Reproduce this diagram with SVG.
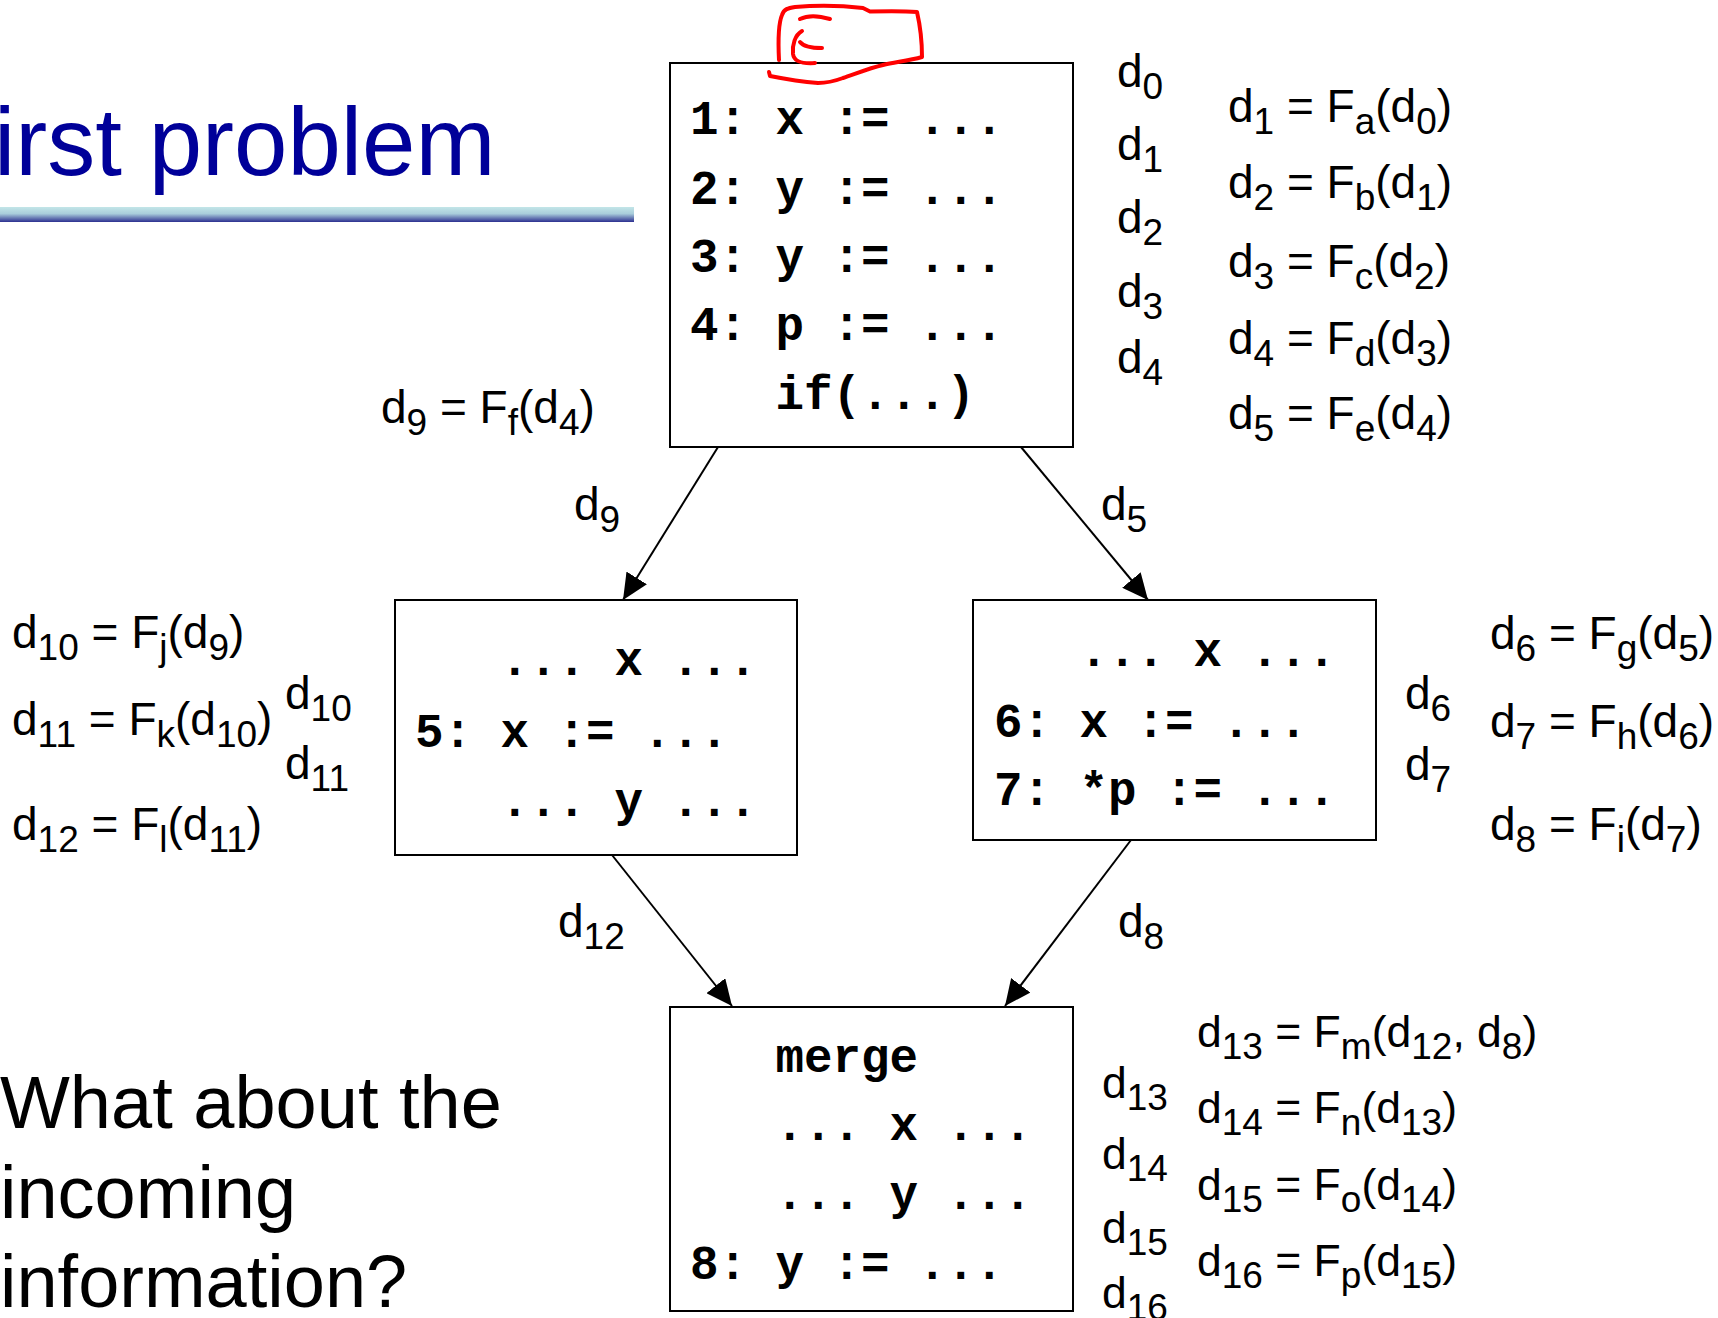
<svg xmlns="http://www.w3.org/2000/svg" width="1718" height="1318" viewBox="0 0 1718 1318">
<defs>
<style>
.box{fill:#fff;stroke:#000;stroke-width:2}
.code{font-family:"Liberation Mono","Courier New",monospace;font-weight:bold;font-size:47.5px;fill:#000}
.m{font-family:"Liberation Sans",Arial,sans-serif;font-size:46px;fill:#000}
.mb{font-family:"Liberation Sans",Arial,sans-serif;font-size:44.5px;fill:#000}
.s{font-size:37px}
.edge{stroke:#000;stroke-width:2;fill:none;marker-end:url(#arr)}
.red{fill:none;stroke:#f00;stroke-width:4;stroke-linecap:round;stroke-linejoin:round}
</style>
<marker id="arr" markerUnits="userSpaceOnUse" markerWidth="26" markerHeight="24" refX="26" refY="12" orient="auto" viewBox="0 0 26 24">
<path d="M0,0 L26,12 L0,24 Z" fill="#000"/>
</marker>
<linearGradient id="bar" x1="0" y1="0" x2="0" y2="1">
<stop offset="0" stop-color="#c3e6e8"/>
<stop offset="0.45" stop-color="#a9cddb"/>
<stop offset="1" stop-color="#2c2f90"/>
</linearGradient>
</defs>
<rect width="1718" height="1318" fill="#fff"/>

<g id="title">
<text x="-6" y="175" style="font-family:'Liberation Sans',Arial,sans-serif;font-size:96px;fill:#000099">irst problem</text>
<rect x="0" y="207" width="634" height="15" fill="url(#bar)"/>
</g>

<g id="question" style="font-family:'Liberation Sans',Arial,sans-serif;font-size:74px;fill:#000">
<text x="0" y="1128">What about the</text>
<text x="0" y="1218">incoming</text>
<text x="0" y="1307">information?</text>
</g>

<g id="connectors">
<line class="edge" x1="718" y1="447" x2="623" y2="600"/>
<line class="edge" x1="1021" y1="447" x2="1148" y2="600"/>
<line class="edge" x1="612" y1="855" x2="732" y2="1006"/>
<line class="edge" x1="1131" y1="840" x2="1005" y2="1006"/>
</g>

<g id="node1">
<rect class="box" x="670" y="63" width="403" height="384"/>
<text class="code" x="690" y="134">1: x := ...</text>
<text class="code" x="690" y="204">2: y := ...</text>
<text class="code" x="690" y="272">3: y := ...</text>
<text class="code" x="690" y="340">4: p := ...</text>
<text class="code" x="775.5" y="409">if(...)</text>
</g>

<g id="node2">
<rect class="box" x="395" y="600" width="402" height="255"/>
<text class="code" x="500.5" y="675">... x ...</text>
<text class="code" x="415" y="747">5: x := ...</text>
<text class="code" x="500.5" y="816">... y ...</text>
</g>

<g id="node3">
<rect class="box" x="973" y="600" width="403" height="240"/>
<text class="code" x="1079.5" y="666">... x ...</text>
<text class="code" x="994" y="737">6: x := ...</text>
<text class="code" x="994" y="805">7: *p := ...</text>
</g>

<g id="node4">
<rect class="box" x="670" y="1007" width="403" height="304"/>
<text class="code" x="775.5" y="1072">merge</text>
<text class="code" x="775.5" y="1140">... x ...</text>
<text class="code" x="775.5" y="1209">... y ...</text>
<text class="code" x="690" y="1279">8: y := ...</text>
</g>

<g id="edge-labels">
<text class="m" x="574" y="520">d<tspan class="s" dy="12">9</tspan></text>
<text class="m" x="1101" y="520">d<tspan class="s" dy="12">5</tspan></text>
<text class="m" x="558" y="937">d<tspan class="s" dy="12">12</tspan></text>
<text class="m" x="1118" y="937">d<tspan class="s" dy="12">8</tspan></text>
</g>

<g id="labels-top">
<text class="m" x="1117" y="87">d<tspan class="s" dy="12">0</tspan></text>
<text class="m" x="1117" y="160">d<tspan class="s" dy="12">1</tspan></text>
<text class="m" x="1117" y="233">d<tspan class="s" dy="12">2</tspan></text>
<text class="m" x="1117" y="307">d<tspan class="s" dy="12">3</tspan></text>
<text class="m" x="1117" y="373">d<tspan class="s" dy="12">4</tspan></text>
<text class="m" x="1228" y="122">d<tspan class="s" dy="12">1</tspan><tspan dy="-12"> = F</tspan><tspan class="s" dy="12">a</tspan><tspan dy="-12">(d</tspan><tspan class="s" dy="12">0</tspan><tspan dy="-12">)</tspan></text>
<text class="m" x="1228" y="198">d<tspan class="s" dy="12">2</tspan><tspan dy="-12"> = F</tspan><tspan class="s" dy="12">b</tspan><tspan dy="-12">(d</tspan><tspan class="s" dy="12">1</tspan><tspan dy="-12">)</tspan></text>
<text class="m" x="1228" y="277">d<tspan class="s" dy="12">3</tspan><tspan dy="-12"> = F</tspan><tspan class="s" dy="12">c</tspan><tspan dy="-12">(d</tspan><tspan class="s" dy="12">2</tspan><tspan dy="-12">)</tspan></text>
<text class="m" x="1228" y="354">d<tspan class="s" dy="12">4</tspan><tspan dy="-12"> = F</tspan><tspan class="s" dy="12">d</tspan><tspan dy="-12">(d</tspan><tspan class="s" dy="12">3</tspan><tspan dy="-12">)</tspan></text>
<text class="m" x="1228" y="429">d<tspan class="s" dy="12">5</tspan><tspan dy="-12"> = F</tspan><tspan class="s" dy="12">e</tspan><tspan dy="-12">(d</tspan><tspan class="s" dy="12">4</tspan><tspan dy="-12">)</tspan></text>
<text class="m" x="381" y="423">d<tspan class="s" dy="12">9</tspan><tspan dy="-12"> = F</tspan><tspan class="s" dy="12">f</tspan><tspan dy="-12">(d</tspan><tspan class="s" dy="12">4</tspan><tspan dy="-12">)</tspan></text>
</g>

<g id="labels-left">
<text class="m" x="12" y="648">d<tspan class="s" dy="12">10</tspan><tspan dy="-12"> = F</tspan><tspan class="s" dy="12">j</tspan><tspan dy="-12">(d</tspan><tspan class="s" dy="12">9</tspan><tspan dy="-12">)</tspan></text>
<text class="m" x="12" y="735">d<tspan class="s" dy="12">11</tspan><tspan dy="-12"> = F</tspan><tspan class="s" dy="12">k</tspan><tspan dy="-12">(d</tspan><tspan class="s" dy="12">10</tspan><tspan dy="-12">)</tspan></text>
<text class="m" x="12" y="840">d<tspan class="s" dy="12">12</tspan><tspan dy="-12"> = F</tspan><tspan class="s" dy="12">l</tspan><tspan dy="-12">(d</tspan><tspan class="s" dy="12">11</tspan><tspan dy="-12">)</tspan></text>
<text class="m" x="285" y="709">d<tspan class="s" dy="12">10</tspan></text>
<text class="m" x="285" y="779">d<tspan class="s" dy="12">11</tspan></text>
</g>

<g id="labels-right">
<text class="m" x="1490" y="649">d<tspan class="s" dy="12">6</tspan><tspan dy="-12"> = F</tspan><tspan class="s" dy="12">g</tspan><tspan dy="-12">(d</tspan><tspan class="s" dy="12">5</tspan><tspan dy="-12">)</tspan></text>
<text class="m" x="1490" y="737">d<tspan class="s" dy="12">7</tspan><tspan dy="-12"> = F</tspan><tspan class="s" dy="12">h</tspan><tspan dy="-12">(d</tspan><tspan class="s" dy="12">6</tspan><tspan dy="-12">)</tspan></text>
<text class="m" x="1490" y="840">d<tspan class="s" dy="12">8</tspan><tspan dy="-12"> = F</tspan><tspan class="s" dy="12">i</tspan><tspan dy="-12">(d</tspan><tspan class="s" dy="12">7</tspan><tspan dy="-12">)</tspan></text>
<text class="m" x="1405" y="709">d<tspan class="s" dy="12">6</tspan></text>
<text class="m" x="1405" y="780">d<tspan class="s" dy="12">7</tspan></text>
</g>

<g id="labels-bottom">
<text class="mb" x="1197" y="1047">d<tspan class="s" dy="12">13</tspan><tspan dy="-12"> = F</tspan><tspan class="s" dy="12">m</tspan><tspan dy="-12">(d</tspan><tspan class="s" dy="12">12</tspan><tspan dy="-12">, d</tspan><tspan class="s" dy="12">8</tspan><tspan dy="-12">)</tspan></text>
<text class="mb" x="1197" y="1123">d<tspan class="s" dy="12">14</tspan><tspan dy="-12"> = F</tspan><tspan class="s" dy="12">n</tspan><tspan dy="-12">(d</tspan><tspan class="s" dy="12">13</tspan><tspan dy="-12">)</tspan></text>
<text class="mb" x="1197" y="1200">d<tspan class="s" dy="12">15</tspan><tspan dy="-12"> = F</tspan><tspan class="s" dy="12">o</tspan><tspan dy="-12">(d</tspan><tspan class="s" dy="12">14</tspan><tspan dy="-12">)</tspan></text>
<text class="mb" x="1197" y="1276">d<tspan class="s" dy="12">16</tspan><tspan dy="-12"> = F</tspan><tspan class="s" dy="12">p</tspan><tspan dy="-12">(d</tspan><tspan class="s" dy="12">15</tspan><tspan dy="-12">)</tspan></text>
<text class="mb" x="1102" y="1098">d<tspan class="s" dy="12">13</tspan></text>
<text class="mb" x="1102" y="1169">d<tspan class="s" dy="12">14</tspan></text>
<text class="mb" x="1102" y="1243">d<tspan class="s" dy="12">15</tspan></text>
<text class="mb" x="1102" y="1308">d<tspan class="s" dy="12">16</tspan></text>
</g>

<g id="annotation">
<path class="red" d="M779,60 C778,40 779,22 782,15 C784,9 788,8 795,7 C820,5 845,6 863,8 L870,11.5 C890,11 905,11 917,12 C920,25 922,45 922,57 C908,61 895,62 883,65 C870,68 855,74 843,78 C835,81 828,83 818,83 C805,82 790,80 770,76 L769,72"/>
<path class="red" d="M800,19 C808,15 820,16 830,19"/>
<path class="red" d="M802,31 C795,35 792,45 793,54 C794,61 800,64 815,63"/>
<path class="red" d="M800,42 C803,46 810,48 822,48"/>
</g>
</svg>
